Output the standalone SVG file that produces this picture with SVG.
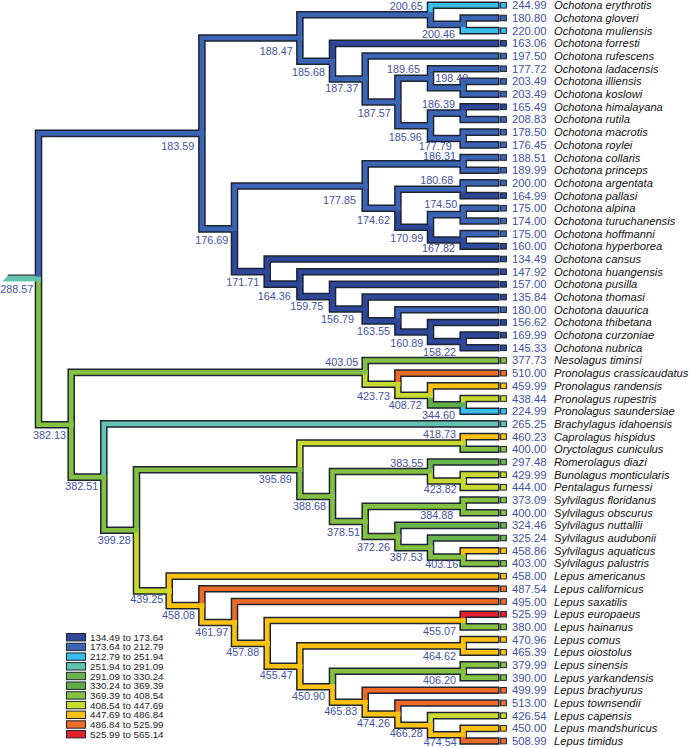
<svg xmlns="http://www.w3.org/2000/svg" width="689" height="748" viewBox="0 0 689 748">
<style>
.o{fill:none;stroke:#1d2433;stroke-width:7.6;stroke-linecap:square;stroke-linejoin:miter}
.c{fill:none;stroke-width:4.6;stroke-linecap:square;stroke-linejoin:miter}
.k1{stroke:#2E4799}.k2{stroke:#3B65B4}.k3{stroke:#36BEEC}.k4{stroke:#64C3AE}.k5{stroke:#6BB34B}.k6{stroke:#5FAE47}.k7{stroke:#84C143}.k8{stroke:#C9DA2F}.k9{stroke:#FDC20F}.k10{stroke:#EE6A27}.k11{stroke:#E4202A}
.f1{fill:#2E4799}.f2{fill:#3B65B4}.f3{fill:#36BEEC}.f4{fill:#64C3AE}.f5{fill:#6BB34B}.f6{fill:#5FAE47}.f7{fill:#84C143}.f8{fill:#C9DA2F}.f9{fill:#FDC20F}.f10{fill:#EE6A27}.f11{fill:#E4202A}
.l{font-family:"Liberation Sans",Arial,sans-serif;font-size:10.8px;fill:#4152A4;text-anchor:end}
.v{font-family:"Liberation Sans",Arial,sans-serif;font-size:11.3px;fill:#4152A4}
.n{font-family:"Liberation Sans",Arial,sans-serif;font-size:11.2px;font-style:italic;fill:#111}
.ts{stroke:#1d2433;stroke-width:1}
.lg{font-family:"Liberation Sans",Arial,sans-serif;font-size:9.8px;fill:#1a1a1a}
</style>
<g id="connectors">
<path class="o" d="M38.5,279.08V133.42H201.9M38.5,279.08V424.74H71.2M201.9,133.42V38.01H299.9M201.9,133.42V228.83H234.5M299.9,38.01V14.82H430.5M299.9,38.01V61.2H332.5M430.5,14.82V5.3H495.8M430.5,14.82V24.33H463.2M463.2,24.33V17.99H495.8M463.2,24.33V30.67H495.8M332.5,61.2V43.36H495.8M332.5,61.2V79.03H365.2M365.2,79.03V56.04H495.8M365.2,79.03V102.03H397.9M397.9,102.03V78.24H430.5M397.9,102.03V125.81H430.5M430.5,78.24V68.73H495.8M430.5,78.24V87.76H463.2M463.2,87.76V81.41H495.8M463.2,87.76V94.1H495.8M430.5,125.81V113.13H463.2M430.5,125.81V138.5H463.2M463.2,113.13V106.78H495.8M463.2,113.13V119.47H495.8M463.2,138.5V132.15H495.8M463.2,138.5V144.84H495.8M234.5,228.83V186.07H365.2M234.5,228.83V271.59H267.2M365.2,186.07V163.87H463.2M365.2,186.07V208.27H397.9M463.2,163.87V157.52H495.8M463.2,163.87V170.21H495.8M397.9,208.27V189.24H463.2M397.9,208.27V227.29H430.5M463.2,189.24V182.89H495.8M463.2,189.24V195.58H495.8M430.5,227.29V214.61H463.2M430.5,227.29V239.98H463.2M463.2,214.61V208.26H495.8M463.2,214.61V220.95H495.8M463.2,239.98V233.63H495.8M463.2,239.98V246.32H495.8M267.2,271.59V259H495.8M267.2,271.59V284.17H299.9M299.9,284.17V271.69H495.8M299.9,284.17V296.66H332.5M332.5,296.66V284.37H495.8M332.5,296.66V308.95H365.2M365.2,308.95V297.06H495.8M365.2,308.95V320.84H397.9M397.9,320.84V309.74H495.8M397.9,320.84V331.94H430.5M430.5,331.94V322.43H495.8M430.5,331.94V341.46H463.2M463.2,341.46V335.11H495.8M463.2,341.46V347.8H495.8M71.2,424.74V372.38H365.2M71.2,424.74V477.1H103.8M365.2,372.38V360.48H495.8M365.2,372.38V384.27H397.9M397.9,384.27V373.17H495.8M397.9,384.27V395.37H430.5M430.5,395.37V385.85H495.8M430.5,395.37V404.88H463.2M463.2,404.88V398.54H495.8M463.2,404.88V411.22H495.8M103.8,477.1V423.91H495.8M103.8,477.1V530.29H136.5M136.5,530.29V469.7H299.9M136.5,530.29V590.88H169.2M299.9,469.7V442.94H463.2M299.9,469.7V496.46H332.5M463.2,442.94V436.59H495.8M463.2,442.94V449.28H495.8M332.5,496.46V471.48H430.5M332.5,496.46V521.43H365.2M430.5,471.48V461.96H495.8M430.5,471.48V480.99H463.2M463.2,480.99V474.65H495.8M463.2,480.99V487.33H495.8M365.2,521.43V506.36H463.2M365.2,521.43V536.49H397.9M463.2,506.36V500.02H495.8M463.2,506.36V512.7H495.8M397.9,536.49V525.39H495.8M397.9,536.49V547.59H430.5M430.5,547.59V538.07H495.8M430.5,547.59V557.1H463.2M463.2,557.1V550.76H495.8M463.2,557.1V563.44H495.8M169.2,590.88V576.13H495.8M169.2,590.88V605.64H201.9M201.9,605.64V588.81H495.8M201.9,605.64V622.46H234.5M234.5,622.46V601.5H495.8M234.5,622.46V643.42H267.2M267.2,643.42V620.53H463.2M267.2,643.42V666.31H299.9M463.2,620.53V614.18H495.8M463.2,620.53V626.87H495.8M299.9,666.31V645.9H463.2M299.9,666.31V686.73H332.5M463.2,645.9V639.55H495.8M463.2,645.9V652.24H495.8M332.5,686.73V671.27H463.2M332.5,686.73V702.19H365.2M463.2,671.27V664.92H495.8M463.2,671.27V677.61H495.8M365.2,702.19V690.29H495.8M365.2,702.19V714.08H397.9M397.9,714.08V702.98H495.8M397.9,714.08V725.18H430.5M430.5,725.18V715.66H495.8M430.5,725.18V734.69H463.2M463.2,734.69V728.35H495.8M463.2,734.69V741.03H495.8"/>
<g class="c">
<path class="k2" d="M38.5,279.08V133.42H201.9"/>
<path class="k7" d="M38.5,279.08V424.74H71.2"/>
<path class="k2" d="M201.9,133.42V38.01H299.9"/>
<path class="k2" d="M201.9,133.42V228.83H234.5"/>
<path class="k2" d="M299.9,38.01V14.82H430.5"/>
<path class="k2" d="M299.9,38.01V61.2H332.5"/>
<path class="k3" d="M430.5,14.82V5.3H495.8"/>
<path class="k2" d="M430.5,14.82V24.33H463.2"/>
<path class="k2" d="M463.2,24.33V17.99H495.8"/>
<path class="k3" d="M463.2,24.33V30.67H495.8"/>
<path class="k1" d="M332.5,61.2V43.36H495.8"/>
<path class="k2" d="M332.5,61.2V79.03H365.2"/>
<path class="k2" d="M365.2,79.03V56.04H495.8"/>
<path class="k2" d="M365.2,79.03V102.03H397.9"/>
<path class="k2" d="M397.9,102.03V78.24H430.5"/>
<path class="k2" d="M397.9,102.03V125.81H430.5"/>
<path class="k2" d="M430.5,78.24V68.73H495.8"/>
<path class="k2" d="M430.5,78.24V87.76H463.2"/>
<path class="k2" d="M463.2,87.76V81.41H495.8"/>
<path class="k2" d="M463.2,87.76V94.1H495.8"/>
<path class="k2" d="M430.5,125.81V113.13H463.2"/>
<path class="k2" d="M430.5,125.81V138.5H463.2"/>
<path class="k1" d="M463.2,113.13V106.78H495.8"/>
<path class="k2" d="M463.2,113.13V119.47H495.8"/>
<path class="k2" d="M463.2,138.5V132.15H495.8"/>
<path class="k2" d="M463.2,138.5V144.84H495.8"/>
<path class="k2" d="M234.5,228.83V186.07H365.2"/>
<path class="k1" d="M234.5,228.83V271.59H267.2"/>
<path class="k2" d="M365.2,186.07V163.87H463.2"/>
<path class="k2" d="M365.2,186.07V208.27H397.9"/>
<path class="k2" d="M463.2,163.87V157.52H495.8"/>
<path class="k2" d="M463.2,163.87V170.21H495.8"/>
<path class="k2" d="M397.9,208.27V189.24H463.2"/>
<path class="k1" d="M397.9,208.27V227.29H430.5"/>
<path class="k2" d="M463.2,189.24V182.89H495.8"/>
<path class="k1" d="M463.2,189.24V195.58H495.8"/>
<path class="k2" d="M430.5,227.29V214.61H463.2"/>
<path class="k1" d="M430.5,227.29V239.98H463.2"/>
<path class="k2" d="M463.2,214.61V208.26H495.8"/>
<path class="k2" d="M463.2,214.61V220.95H495.8"/>
<path class="k2" d="M463.2,239.98V233.63H495.8"/>
<path class="k1" d="M463.2,239.98V246.32H495.8"/>
<path class="k1" d="M267.2,271.59V259H495.8"/>
<path class="k1" d="M267.2,271.59V284.17H299.9"/>
<path class="k1" d="M299.9,284.17V271.69H495.8"/>
<path class="k1" d="M299.9,284.17V296.66H332.5"/>
<path class="k1" d="M332.5,296.66V284.37H495.8"/>
<path class="k1" d="M332.5,296.66V308.95H365.2"/>
<path class="k1" d="M365.2,308.95V297.06H495.8"/>
<path class="k1" d="M365.2,308.95V320.84H397.9"/>
<path class="k2" d="M397.9,320.84V309.74H495.8"/>
<path class="k1" d="M397.9,320.84V331.94H430.5"/>
<path class="k1" d="M430.5,331.94V322.43H495.8"/>
<path class="k1" d="M430.5,331.94V341.46H463.2"/>
<path class="k1" d="M463.2,341.46V335.11H495.8"/>
<path class="k1" d="M463.2,341.46V347.8H495.8"/>
<path class="k7" d="M71.2,424.74V372.38H365.2"/>
<path class="k7" d="M71.2,424.74V477.1H103.8"/>
<path class="k7" d="M365.2,372.38V360.48H495.8"/>
<path class="k8" d="M365.2,372.38V384.27H397.9"/>
<path class="k10" d="M397.9,384.27V373.17H495.8"/>
<path class="k8" d="M397.9,384.27V395.37H430.5"/>
<path class="k9" d="M430.5,395.37V385.85H495.8"/>
<path class="k6" d="M430.5,395.37V404.88H463.2"/>
<path class="k8" d="M463.2,404.88V398.54H495.8"/>
<path class="k3" d="M463.2,404.88V411.22H495.8"/>
<path class="k4" d="M103.8,477.1V423.91H495.8"/>
<path class="k7" d="M103.8,477.1V530.29H136.5"/>
<path class="k7" d="M136.5,530.29V469.7H299.9"/>
<path class="k8" d="M136.5,530.29V590.88H169.2"/>
<path class="k8" d="M299.9,469.7V442.94H463.2"/>
<path class="k7" d="M299.9,469.7V496.46H332.5"/>
<path class="k9" d="M463.2,442.94V436.59H495.8"/>
<path class="k7" d="M463.2,442.94V449.28H495.8"/>
<path class="k7" d="M332.5,496.46V471.48H430.5"/>
<path class="k7" d="M332.5,496.46V521.43H365.2"/>
<path class="k5" d="M430.5,471.48V461.96H495.8"/>
<path class="k8" d="M430.5,471.48V480.99H463.2"/>
<path class="k8" d="M463.2,480.99V474.65H495.8"/>
<path class="k8" d="M463.2,480.99V487.33H495.8"/>
<path class="k7" d="M365.2,521.43V506.36H463.2"/>
<path class="k7" d="M365.2,521.43V536.49H397.9"/>
<path class="k7" d="M463.2,506.36V500.02H495.8"/>
<path class="k7" d="M463.2,506.36V512.7H495.8"/>
<path class="k5" d="M397.9,536.49V525.39H495.8"/>
<path class="k7" d="M397.9,536.49V547.59H430.5"/>
<path class="k5" d="M430.5,547.59V538.07H495.8"/>
<path class="k7" d="M430.5,547.59V557.1H463.2"/>
<path class="k9" d="M463.2,557.1V550.76H495.8"/>
<path class="k7" d="M463.2,557.1V563.44H495.8"/>
<path class="k9" d="M169.2,590.88V576.13H495.8"/>
<path class="k9" d="M169.2,590.88V605.64H201.9"/>
<path class="k10" d="M201.9,605.64V588.81H495.8"/>
<path class="k9" d="M201.9,605.64V622.46H234.5"/>
<path class="k10" d="M234.5,622.46V601.5H495.8"/>
<path class="k9" d="M234.5,622.46V643.42H267.2"/>
<path class="k9" d="M267.2,643.42V620.53H463.2"/>
<path class="k9" d="M267.2,643.42V666.31H299.9"/>
<path class="k11" d="M463.2,620.53V614.18H495.8"/>
<path class="k7" d="M463.2,620.53V626.87H495.8"/>
<path class="k9" d="M299.9,666.31V645.9H463.2"/>
<path class="k9" d="M299.9,666.31V686.73H332.5"/>
<path class="k9" d="M463.2,645.9V639.55H495.8"/>
<path class="k9" d="M463.2,645.9V652.24H495.8"/>
<path class="k7" d="M332.5,686.73V671.27H463.2"/>
<path class="k9" d="M332.5,686.73V702.19H365.2"/>
<path class="k7" d="M463.2,671.27V664.92H495.8"/>
<path class="k7" d="M463.2,671.27V677.61H495.8"/>
<path class="k10" d="M365.2,702.19V690.29H495.8"/>
<path class="k9" d="M365.2,702.19V714.08H397.9"/>
<path class="k10" d="M397.9,714.08V702.98H495.8"/>
<path class="k9" d="M397.9,714.08V725.18H430.5"/>
<path class="k8" d="M430.5,725.18V715.66H495.8"/>
<path class="k9" d="M430.5,725.18V734.69H463.2"/>
<path class="k9" d="M463.2,734.69V728.35H495.8"/>
<path class="k10" d="M463.2,734.69V741.03H495.8"/>
</g>
</g>
<g id="root">
<polygon class="f4" points="2.5,281.6 7.8,275.6 36,275.6 36,281.6"/>
<line x1="7.8" y1="275.1" x2="35" y2="275.1" stroke="#1d2433" stroke-width="1.2"/>
<rect class="f4" x="36.2" y="276.78" width="4.6" height="4.6"/>
<text class="l" x="33.3" y="293.2">288.57</text>
</g>
<g id="internal-nodes">
<g id="n183.59"><rect class="f2" x="199.6" y="131.12" width="4.6" height="4.6"/><text class="l" x="194.3" y="149.9">183.59</text></g>
<g id="n188.47"><rect class="f2" x="297.6" y="35.71" width="4.6" height="4.6"/><text class="l" x="292.7" y="54.6">188.47</text></g>
<g id="n200.65"><rect class="f2" x="428.2" y="12.52" width="4.6" height="4.6"/><text class="l" x="422.7" y="9.9">200.65</text></g>
<g id="n200.46"><rect class="f2" x="460.9" y="22.03" width="4.6" height="4.6"/><text class="l" x="455" y="38.2">200.46</text></g>
<g id="n185.68"><rect class="f2" x="330.2" y="58.9" width="4.6" height="4.6"/><text class="l" x="325" y="75.6">185.68</text></g>
<g id="n187.37"><rect class="f2" x="362.9" y="76.73" width="4.6" height="4.6"/><text class="l" x="358.3" y="92.2">187.37</text></g>
<g id="n187.57"><rect class="f2" x="395.6" y="99.73" width="4.6" height="4.6"/><text class="l" x="390.7" y="117.2">187.57</text></g>
<g id="n189.65"><rect class="f2" x="428.2" y="75.94" width="4.6" height="4.6"/><text class="l" x="420" y="73.2">189.65</text></g>
<g id="n198.49"><rect class="f2" x="460.9" y="85.46" width="4.6" height="4.6"/><text class="l" x="468.3" y="82.2">198.49</text></g>
<g id="n185.96"><rect class="f2" x="428.2" y="123.51" width="4.6" height="4.6"/><text class="l" x="421.7" y="140.6">185.96</text></g>
<g id="n186.39"><rect class="f2" x="460.9" y="110.83" width="4.6" height="4.6"/><text class="l" x="455" y="108.2">186.39</text></g>
<g id="n177.79"><rect class="f2" x="460.9" y="136.2" width="4.6" height="4.6"/><text class="l" x="451.7" y="150.2">177.79</text></g>
<g id="n176.69"><rect class="f2" x="232.2" y="226.53" width="4.6" height="4.6"/><text class="l" x="228.3" y="243.9">176.69</text></g>
<g id="n177.85"><rect class="f2" x="362.9" y="183.77" width="4.6" height="4.6"/><text class="l" x="356" y="203.9">177.85</text></g>
<g id="n186.31"><rect class="f2" x="460.9" y="161.57" width="4.6" height="4.6"/><text class="l" x="456" y="160.4">186.31</text></g>
<g id="n174.62"><rect class="f2" x="395.6" y="205.97" width="4.6" height="4.6"/><text class="l" x="390" y="223.9">174.62</text></g>
<g id="n180.68"><rect class="f2" x="460.9" y="186.94" width="4.6" height="4.6"/><text class="l" x="453.3" y="183.9">180.68</text></g>
<g id="n170.99"><rect class="f1" x="428.2" y="224.99" width="4.6" height="4.6"/><text class="l" x="423.3" y="241.6">170.99</text></g>
<g id="n174.50"><rect class="f2" x="460.9" y="212.31" width="4.6" height="4.6"/><text class="l" x="457.3" y="207.9">174.50</text></g>
<g id="n167.82"><rect class="f1" x="460.9" y="237.68" width="4.6" height="4.6"/><text class="l" x="455" y="252.2">167.82</text></g>
<g id="n171.71"><rect class="f1" x="264.9" y="269.29" width="4.6" height="4.6"/><text class="l" x="259.3" y="285.6">171.71</text></g>
<g id="n164.36"><rect class="f1" x="297.6" y="281.87" width="4.6" height="4.6"/><text class="l" x="290.7" y="299.6">164.36</text></g>
<g id="n159.75"><rect class="f1" x="330.2" y="294.36" width="4.6" height="4.6"/><text class="l" x="323.3" y="309.9">159.75</text></g>
<g id="n156.79"><rect class="f1" x="362.9" y="306.65" width="4.6" height="4.6"/><text class="l" x="354" y="323.2">156.79</text></g>
<g id="n163.55"><rect class="f1" x="395.6" y="318.54" width="4.6" height="4.6"/><text class="l" x="390" y="334.6">163.55</text></g>
<g id="n160.89"><rect class="f1" x="428.2" y="329.64" width="4.6" height="4.6"/><text class="l" x="423.3" y="347.2">160.89</text></g>
<g id="n158.22"><rect class="f1" x="460.9" y="339.16" width="4.6" height="4.6"/><text class="l" x="456" y="355.6">158.22</text></g>
<g id="n382.13"><rect class="f7" x="68.9" y="422.44" width="4.6" height="4.6"/><text class="l" x="66" y="438.9">382.13</text></g>
<g id="n403.05"><rect class="f7" x="362.9" y="370.08" width="4.6" height="4.6"/><text class="l" x="358.3" y="365.6">403.05</text></g>
<g id="n423.73"><rect class="f8" x="395.6" y="381.97" width="4.6" height="4.6"/><text class="l" x="390" y="399.9">423.73</text></g>
<g id="n408.72"><rect class="f8" x="428.2" y="393.07" width="4.6" height="4.6"/><text class="l" x="421.7" y="408.9">408.72</text></g>
<g id="n344.60"><rect class="f6" x="460.9" y="402.58" width="4.6" height="4.6"/><text class="l" x="455" y="418.9">344.60</text></g>
<g id="n382.51"><rect class="f7" x="101.5" y="474.8" width="4.6" height="4.6"/><text class="l" x="98.3" y="489.6">382.51</text></g>
<g id="n399.28"><rect class="f7" x="134.2" y="527.99" width="4.6" height="4.6"/><text class="l" x="130.7" y="543.9">399.28</text></g>
<g id="n395.89"><rect class="f7" x="297.6" y="467.4" width="4.6" height="4.6"/><text class="l" x="291.7" y="483.2">395.89</text></g>
<g id="n418.73"><rect class="f8" x="460.9" y="440.64" width="4.6" height="4.6"/><text class="l" x="456" y="438.2">418.73</text></g>
<g id="n388.68"><rect class="f7" x="330.2" y="494.16" width="4.6" height="4.6"/><text class="l" x="326" y="509.9">388.68</text></g>
<g id="n383.55"><rect class="f7" x="428.2" y="469.18" width="4.6" height="4.6"/><text class="l" x="423.3" y="466.6">383.55</text></g>
<g id="n423.82"><rect class="f8" x="460.9" y="478.69" width="4.6" height="4.6"/><text class="l" x="456.7" y="493.2">423.82</text></g>
<g id="n378.51"><rect class="f7" x="362.9" y="519.13" width="4.6" height="4.6"/><text class="l" x="360" y="535.6">378.51</text></g>
<g id="n384.88"><rect class="f7" x="460.9" y="504.06" width="4.6" height="4.6"/><text class="l" x="453.3" y="518.9">384.88</text></g>
<g id="n372.26"><rect class="f7" x="395.6" y="534.19" width="4.6" height="4.6"/><text class="l" x="390" y="550.6">372.26</text></g>
<g id="n387.53"><rect class="f7" x="428.2" y="545.29" width="4.6" height="4.6"/><text class="l" x="422.7" y="560.6">387.53</text></g>
<g id="n403.16"><rect class="f7" x="460.9" y="554.8" width="4.6" height="4.6"/><text class="l" x="458.3" y="568.2">403.16</text></g>
<g id="n439.25"><rect class="f8" x="166.9" y="588.58" width="4.6" height="4.6"/><text class="l" x="163.3" y="603.2">439.25</text></g>
<g id="n458.08"><rect class="f9" x="199.6" y="603.34" width="4.6" height="4.6"/><text class="l" x="195" y="618.9">458.08</text></g>
<g id="n461.97"><rect class="f9" x="232.2" y="620.16" width="4.6" height="4.6"/><text class="l" x="228.3" y="635.6">461.97</text></g>
<g id="n457.88"><rect class="f9" x="264.9" y="641.12" width="4.6" height="4.6"/><text class="l" x="259.3" y="655.6">457.88</text></g>
<g id="n455.07"><rect class="f9" x="460.9" y="618.23" width="4.6" height="4.6"/><text class="l" x="456" y="634.9">455.07</text></g>
<g id="n455.47"><rect class="f9" x="297.6" y="664.01" width="4.6" height="4.6"/><text class="l" x="292.7" y="678.9">455.47</text></g>
<g id="n464.62"><rect class="f9" x="460.9" y="643.6" width="4.6" height="4.6"/><text class="l" x="456" y="659.9">464.62</text></g>
<g id="n450.90"><rect class="f9" x="330.2" y="684.43" width="4.6" height="4.6"/><text class="l" x="325" y="699.9">450.90</text></g>
<g id="n406.20"><rect class="f7" x="460.9" y="668.97" width="4.6" height="4.6"/><text class="l" x="456" y="683.9">406.20</text></g>
<g id="n465.83"><rect class="f9" x="362.9" y="699.89" width="4.6" height="4.6"/><text class="l" x="357.3" y="714.6">465.83</text></g>
<g id="n474.26"><rect class="f9" x="395.6" y="711.78" width="4.6" height="4.6"/><text class="l" x="390" y="726.6">474.26</text></g>
<g id="n466.28"><rect class="f9" x="428.2" y="722.88" width="4.6" height="4.6"/><text class="l" x="422.7" y="737.2">466.28</text></g>
<g id="n474.54"><rect class="f9" x="460.9" y="732.39" width="4.6" height="4.6"/><text class="l" x="456.7" y="746.4">474.54</text></g>
</g>
<g id="tips">
<g id="t01"><rect class="ts f3" x="500.6" y="2.5" width="5.8" height="5.6"/><text class="v" x="512" y="9.3">244.99</text><text class="n" x="554" y="9.3">Ochotona erythrotis</text></g>
<g id="t02"><rect class="ts f2" x="500.6" y="15.19" width="5.8" height="5.6"/><text class="v" x="512" y="21.99">180.80</text><text class="n" x="554" y="21.99">Ochotona gloveri</text></g>
<g id="t03"><rect class="ts f3" x="500.6" y="27.87" width="5.8" height="5.6"/><text class="v" x="512" y="34.67">220.00</text><text class="n" x="554" y="34.67">Ochotona muliensis</text></g>
<g id="t04"><rect class="ts f1" x="500.6" y="40.56" width="5.8" height="5.6"/><text class="v" x="512" y="47.36">163.06</text><text class="n" x="554" y="47.36">Ochotona forresti</text></g>
<g id="t05"><rect class="ts f2" x="500.6" y="53.24" width="5.8" height="5.6"/><text class="v" x="512" y="60.04">197.50</text><text class="n" x="554" y="60.04">Ochotona rufescens</text></g>
<g id="t06"><rect class="ts f2" x="500.6" y="65.93" width="5.8" height="5.6"/><text class="v" x="512" y="72.73">177.72</text><text class="n" x="554" y="72.73">Ochotona ladacensis</text></g>
<g id="t07"><rect class="ts f2" x="500.6" y="78.61" width="5.8" height="5.6"/><text class="v" x="512" y="85.41">203.49</text><text class="n" x="554" y="85.41">Ochotona illiensis</text></g>
<g id="t08"><rect class="ts f2" x="500.6" y="91.3" width="5.8" height="5.6"/><text class="v" x="512" y="98.1">203.49</text><text class="n" x="554" y="98.1">Ochotona koslowi</text></g>
<g id="t09"><rect class="ts f1" x="500.6" y="103.98" width="5.8" height="5.6"/><text class="v" x="512" y="110.78">165.49</text><text class="n" x="554" y="110.78">Ochotona himalayana</text></g>
<g id="t10"><rect class="ts f2" x="500.6" y="116.67" width="5.8" height="5.6"/><text class="v" x="512" y="123.47">208.83</text><text class="n" x="554" y="123.47">Ochotona rutila</text></g>
<g id="t11"><rect class="ts f2" x="500.6" y="129.35" width="5.8" height="5.6"/><text class="v" x="512" y="136.15">178.50</text><text class="n" x="554" y="136.15">Ochotona macrotis</text></g>
<g id="t12"><rect class="ts f2" x="500.6" y="142.04" width="5.8" height="5.6"/><text class="v" x="512" y="148.84">176.45</text><text class="n" x="554" y="148.84">Ochotona roylei</text></g>
<g id="t13"><rect class="ts f2" x="500.6" y="154.72" width="5.8" height="5.6"/><text class="v" x="512" y="161.52">188.51</text><text class="n" x="554" y="161.52">Ochotona collaris</text></g>
<g id="t14"><rect class="ts f2" x="500.6" y="167.41" width="5.8" height="5.6"/><text class="v" x="512" y="174.21">189.99</text><text class="n" x="554" y="174.21">Ochotona princeps</text></g>
<g id="t15"><rect class="ts f2" x="500.6" y="180.09" width="5.8" height="5.6"/><text class="v" x="512" y="186.89">200.00</text><text class="n" x="554" y="186.89">Ochotona argentata</text></g>
<g id="t16"><rect class="ts f1" x="500.6" y="192.78" width="5.8" height="5.6"/><text class="v" x="512" y="199.58">164.99</text><text class="n" x="554" y="199.58">Ochotona pallasi</text></g>
<g id="t17"><rect class="ts f2" x="500.6" y="205.46" width="5.8" height="5.6"/><text class="v" x="512" y="212.26">175.00</text><text class="n" x="554" y="212.26">Ochotona alpina</text></g>
<g id="t18"><rect class="ts f2" x="500.6" y="218.15" width="5.8" height="5.6"/><text class="v" x="512" y="224.95">174.00</text><text class="n" x="554" y="224.95">Ochotona turuchanensis</text></g>
<g id="t19"><rect class="ts f2" x="500.6" y="230.83" width="5.8" height="5.6"/><text class="v" x="512" y="237.63">175.00</text><text class="n" x="554" y="237.63">Ochotona hoffmanni</text></g>
<g id="t20"><rect class="ts f1" x="500.6" y="243.52" width="5.8" height="5.6"/><text class="v" x="512" y="250.32">160.00</text><text class="n" x="554" y="250.32">Ochotona hyperborea</text></g>
<g id="t21"><rect class="ts f1" x="500.6" y="256.2" width="5.8" height="5.6"/><text class="v" x="512" y="263">134.49</text><text class="n" x="554" y="263">Ochotona cansus</text></g>
<g id="t22"><rect class="ts f1" x="500.6" y="268.89" width="5.8" height="5.6"/><text class="v" x="512" y="275.69">147.92</text><text class="n" x="554" y="275.69">Ochotona huangensis</text></g>
<g id="t23"><rect class="ts f1" x="500.6" y="281.57" width="5.8" height="5.6"/><text class="v" x="512" y="288.37">157.00</text><text class="n" x="554" y="288.37">Ochotona pusilla</text></g>
<g id="t24"><rect class="ts f1" x="500.6" y="294.26" width="5.8" height="5.6"/><text class="v" x="512" y="301.06">135.84</text><text class="n" x="554" y="301.06">Ochotona thomasi</text></g>
<g id="t25"><rect class="ts f2" x="500.6" y="306.94" width="5.8" height="5.6"/><text class="v" x="512" y="313.74">180.00</text><text class="n" x="554" y="313.74">Ochotona dauurica</text></g>
<g id="t26"><rect class="ts f1" x="500.6" y="319.63" width="5.8" height="5.6"/><text class="v" x="512" y="326.43">156.62</text><text class="n" x="554" y="326.43">Ochotona thibetana</text></g>
<g id="t27"><rect class="ts f1" x="500.6" y="332.31" width="5.8" height="5.6"/><text class="v" x="512" y="339.11">169.99</text><text class="n" x="554" y="339.11">Ochotona curzoniae</text></g>
<g id="t28"><rect class="ts f1" x="500.6" y="345" width="5.8" height="5.6"/><text class="v" x="512" y="351.8">145.33</text><text class="n" x="554" y="351.8">Ochotona nubrica</text></g>
<g id="t29"><rect class="ts f7" x="500.6" y="357.68" width="5.8" height="5.6"/><text class="v" x="512" y="364.48">377.73</text><text class="n" x="554" y="364.48">Nesolagus timinsi</text></g>
<g id="t30"><rect class="ts f10" x="500.6" y="370.37" width="5.8" height="5.6"/><text class="v" x="512" y="377.17">510.00</text><text class="n" x="554" y="377.17">Pronolagus crassicaudatus</text></g>
<g id="t31"><rect class="ts f9" x="500.6" y="383.05" width="5.8" height="5.6"/><text class="v" x="512" y="389.85">459.99</text><text class="n" x="554" y="389.85">Pronolagus randensis</text></g>
<g id="t32"><rect class="ts f8" x="500.6" y="395.74" width="5.8" height="5.6"/><text class="v" x="512" y="402.54">438.44</text><text class="n" x="554" y="402.54">Pronolagus rupestris</text></g>
<g id="t33"><rect class="ts f3" x="500.6" y="408.42" width="5.8" height="5.6"/><text class="v" x="512" y="415.22">224.99</text><text class="n" x="554" y="415.22">Pronolagus saundersiae</text></g>
<g id="t34"><rect class="ts f4" x="500.6" y="421.11" width="5.8" height="5.6"/><text class="v" x="512" y="427.91">265.25</text><text class="n" x="554" y="427.91">Brachylagus idahoensis</text></g>
<g id="t35"><rect class="ts f9" x="500.6" y="433.79" width="5.8" height="5.6"/><text class="v" x="512" y="440.59">460.23</text><text class="n" x="554" y="440.59">Caprolagus hispidus</text></g>
<g id="t36"><rect class="ts f7" x="500.6" y="446.48" width="5.8" height="5.6"/><text class="v" x="512" y="453.28">400.00</text><text class="n" x="554" y="453.28">Oryctolagus cuniculus</text></g>
<g id="t37"><rect class="ts f5" x="500.6" y="459.16" width="5.8" height="5.6"/><text class="v" x="512" y="465.96">297.48</text><text class="n" x="554" y="465.96">Romerolagus diazi</text></g>
<g id="t38"><rect class="ts f8" x="500.6" y="471.85" width="5.8" height="5.6"/><text class="v" x="512" y="478.65">429.99</text><text class="n" x="554" y="478.65">Bunolagus monticularis</text></g>
<g id="t39"><rect class="ts f8" x="500.6" y="484.53" width="5.8" height="5.6"/><text class="v" x="512" y="491.33">444.00</text><text class="n" x="554" y="491.33">Pentalagus furnessi</text></g>
<g id="t40"><rect class="ts f7" x="500.6" y="497.22" width="5.8" height="5.6"/><text class="v" x="512" y="504.02">373.09</text><text class="n" x="554" y="504.02">Sylvilagus floridanus</text></g>
<g id="t41"><rect class="ts f7" x="500.6" y="509.9" width="5.8" height="5.6"/><text class="v" x="512" y="516.7">400.00</text><text class="n" x="554" y="516.7">Sylvilagus obscurus</text></g>
<g id="t42"><rect class="ts f5" x="500.6" y="522.59" width="5.8" height="5.6"/><text class="v" x="512" y="529.39">324.46</text><text class="n" x="554" y="529.39">Sylvilagus nuttallii</text></g>
<g id="t43"><rect class="ts f5" x="500.6" y="535.27" width="5.8" height="5.6"/><text class="v" x="512" y="542.07">325.24</text><text class="n" x="554" y="542.07">Sylvilagus audubonii</text></g>
<g id="t44"><rect class="ts f9" x="500.6" y="547.96" width="5.8" height="5.6"/><text class="v" x="512" y="554.76">458.86</text><text class="n" x="554" y="554.76">Sylvilagus aquaticus</text></g>
<g id="t45"><rect class="ts f7" x="500.6" y="560.64" width="5.8" height="5.6"/><text class="v" x="512" y="567.44">403.00</text><text class="n" x="554" y="567.44">Sylvilagus palustris</text></g>
<g id="t46"><rect class="ts f9" x="500.6" y="573.33" width="5.8" height="5.6"/><text class="v" x="512" y="580.13">458.00</text><text class="n" x="554" y="580.13">Lepus americanus</text></g>
<g id="t47"><rect class="ts f10" x="500.6" y="586.01" width="5.8" height="5.6"/><text class="v" x="512" y="592.81">487.54</text><text class="n" x="554" y="592.81">Lepus californicus</text></g>
<g id="t48"><rect class="ts f10" x="500.6" y="598.7" width="5.8" height="5.6"/><text class="v" x="512" y="605.5">495.00</text><text class="n" x="554" y="605.5">Lepus saxatilis</text></g>
<g id="t49"><rect class="ts f11" x="500.6" y="611.38" width="5.8" height="5.6"/><text class="v" x="512" y="618.18">525.99</text><text class="n" x="554" y="618.18">Lepus europaeus</text></g>
<g id="t50"><rect class="ts f7" x="500.6" y="624.07" width="5.8" height="5.6"/><text class="v" x="512" y="630.87">380.00</text><text class="n" x="554" y="630.87">Lepus hainanus</text></g>
<g id="t51"><rect class="ts f9" x="500.6" y="636.75" width="5.8" height="5.6"/><text class="v" x="512" y="643.55">470.96</text><text class="n" x="554" y="643.55">Lepus comus</text></g>
<g id="t52"><rect class="ts f9" x="500.6" y="649.44" width="5.8" height="5.6"/><text class="v" x="512" y="656.24">465.39</text><text class="n" x="554" y="656.24">Lepus oiostolus</text></g>
<g id="t53"><rect class="ts f7" x="500.6" y="662.12" width="5.8" height="5.6"/><text class="v" x="512" y="668.92">379.99</text><text class="n" x="554" y="668.92">Lepus sinensis</text></g>
<g id="t54"><rect class="ts f7" x="500.6" y="674.81" width="5.8" height="5.6"/><text class="v" x="512" y="681.61">390.00</text><text class="n" x="554" y="681.61">Lepus yarkandensis</text></g>
<g id="t55"><rect class="ts f10" x="500.6" y="687.49" width="5.8" height="5.6"/><text class="v" x="512" y="694.29">499.99</text><text class="n" x="554" y="694.29">Lepus brachyurus</text></g>
<g id="t56"><rect class="ts f10" x="500.6" y="700.18" width="5.8" height="5.6"/><text class="v" x="512" y="706.98">513.00</text><text class="n" x="554" y="706.98">Lepus townsendii</text></g>
<g id="t57"><rect class="ts f8" x="500.6" y="712.86" width="5.8" height="5.6"/><text class="v" x="512" y="719.66">426.54</text><text class="n" x="554" y="719.66">Lepus capensis</text></g>
<g id="t58"><rect class="ts f9" x="500.6" y="725.55" width="5.8" height="5.6"/><text class="v" x="512" y="732.35">450.00</text><text class="n" x="554" y="732.35">Lepus mandshuricus</text></g>
<g id="t59"><rect class="ts f10" x="500.6" y="738.23" width="5.8" height="5.6"/><text class="v" x="512" y="745.03">508.99</text><text class="n" x="554" y="745.03">Lepus timidus</text></g>
</g>
<g id="legend">
<rect class="ts f1" x="66.5" y="633.5" width="19" height="7.4"/><text class="lg" x="90" y="640.7">134.49 to 173.64</text>
<rect class="ts f2" x="66.5" y="643.2" width="19" height="7.4"/><text class="lg" x="90" y="650.4">173.64 to 212.79</text>
<rect class="ts f3" x="66.5" y="652.9" width="19" height="7.4"/><text class="lg" x="90" y="660.1">212.79 to 251.94</text>
<rect class="ts f4" x="66.5" y="662.6" width="19" height="7.4"/><text class="lg" x="90" y="669.8">251.94 to 291.09</text>
<rect class="ts f5" x="66.5" y="672.3" width="19" height="7.4"/><text class="lg" x="90" y="679.5">291.09 to 330.24</text>
<rect class="ts f6" x="66.5" y="682" width="19" height="7.4"/><text class="lg" x="90" y="689.2">330.24 to 369.39</text>
<rect class="ts f7" x="66.5" y="691.7" width="19" height="7.4"/><text class="lg" x="90" y="698.9">369.39 to 408.54</text>
<rect class="ts f8" x="66.5" y="701.4" width="19" height="7.4"/><text class="lg" x="90" y="708.6">408.54 to 447.69</text>
<rect class="ts f9" x="66.5" y="711.1" width="19" height="7.4"/><text class="lg" x="90" y="718.3">447.69 to 486.84</text>
<rect class="ts f10" x="66.5" y="720.8" width="19" height="7.4"/><text class="lg" x="90" y="728">486.84 to 525.99</text>
<rect class="ts f11" x="66.5" y="730.5" width="19" height="7.4"/><text class="lg" x="90" y="737.7">525.99 to 565.14</text>
</g>
</svg>
